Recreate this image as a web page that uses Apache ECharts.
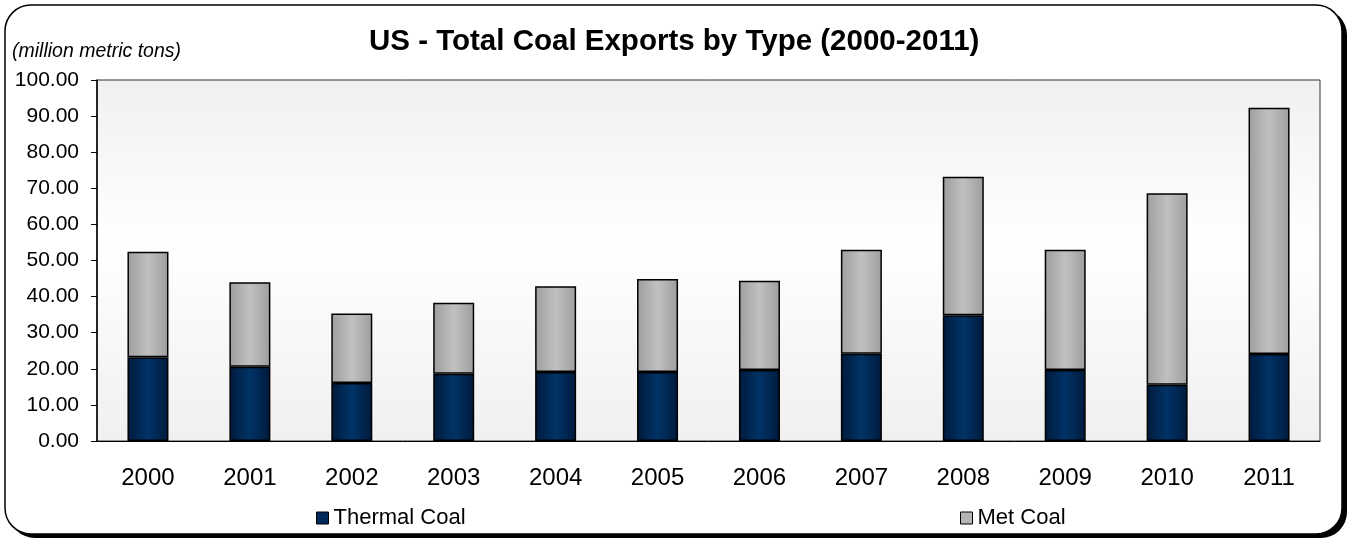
<!DOCTYPE html>
<html lang="en" style="height: 100%">
  <head>
    <meta charset="utf-8" />
  </head>
  <body style="height: 100%; margin: 0; background: #fff">
    <div id="container" style="width: 1352px; height: 540px"></div>

    <script
      type="text/javascript"
      src="https://cdn.jsdelivr.net/npm/echarts@6/dist/echarts.min.js"
    ></script>

    <script type="text/javascript">
      var years = ["2000", "2001", "2002", "2003", "2004", "2005",
                   "2006", "2007", "2008", "2009", "2010", "2011"];
      var thermalCoal = [23.2, 20.6, 16.1, 18.6, 19.1, 19.1, 19.7, 24.2, 34.8, 19.7, 15.6, 24.1];
      var metCoal = [29.2, 23.4, 19.2, 19.7, 23.8, 25.8, 24.7, 28.8, 38.4, 33.3, 53.0, 68.2];

      var dom = document.getElementById("container");
      var myChart = echarts.init(dom, null, { renderer: "canvas" });

      var font = "Liberation Sans, Arial, sans-serif";

      function barGrad(edge, mid) {
        return new echarts.graphic.LinearGradient(0, 0, 1, 0, [
          { offset: 0, color: edge },
          { offset: 0.5, color: mid },
          { offset: 1, color: edge },
        ]);
      }

      var option = {
        animation: false,
        textStyle: { fontFamily: font, color: "#000" },
        graphic: [
          {
            type: "rect",
            z: -10,
            shape: { x: 9, y: 9, width: 1338, height: 529, r: 26 },
            style: { fill: "#000" },
          },
          {
            type: "rect",
            z: -9,
            shape: { x: 5, y: 5, width: 1337, height: 529, r: 26 },
            style: { fill: "#fff", stroke: "#000", lineWidth: 1.5 },
          },
          {
            type: "text",
            left: 12,
            top: 42,
            style: {
              text: "(million metric tons)",
              font: "italic 19.5px " + font,
              fill: "#000",
            },
          },
        ],
        title: {
          text: "US - Total Coal Exports by Type (2000-2011)",
          left: 364,
          top: 22,
          textStyle: { fontSize: 29.5, fontWeight: "bold", fontFamily: font, color: "#000" },
        },
        legend: [
          {
            left: 311,
            top: 502,
            icon: "rect",
            itemWidth: 12,
            itemHeight: 12,
            itemGap: 4,
            textStyle: { fontSize: 22, fontFamily: font, color: "#000" },
            data: [
              {
                name: "Thermal Coal",
                itemStyle: { color: "#00285a", borderColor: "#000", borderWidth: 1 },
              },
            ],
          },
          {
            left: 955,
            top: 502,
            icon: "rect",
            itemWidth: 12,
            itemHeight: 12,
            textStyle: { fontSize: 22, fontFamily: font, color: "#000" },
            data: [
              {
                name: "Met Coal",
                itemStyle: { color: "#b4b4b4", borderColor: "#000", borderWidth: 1 },
              },
            ],
          },
        ],
        grid: {
          left: 97,
          right: 32,
          top: 80,
          bottom: 99,
          show: true,
          borderColor: "#333",
          borderWidth: 1,
          backgroundColor: new echarts.graphic.LinearGradient(0, 0, 0, 1, [
            { offset: 0, color: "#f0f0f0" },
            { offset: 0.45, color: "#ffffff" },
            { offset: 1, color: "#f0f0f0" },
          ]),
        },
        xAxis: {
          type: "category",
          data: years,
          axisLine: { lineStyle: { color: "#000", width: 1 } },
          axisTick: { show: false },
          axisLabel: { fontSize: 24, color: "#000", margin: 25, fontFamily: font },
        },
        yAxis: {
          type: "value",
          min: 0,
          max: 100,
          interval: 10,
          axisLine: { show: true, lineStyle: { color: "#000", width: 1.5 } },
          axisTick: { show: true, length: 6, lineStyle: { color: "#000" } },
          splitLine: { show: false },
          axisLabel: {
            fontSize: 21,
            color: "#000",
            margin: 18,
            fontFamily: font,
            formatter: function (v) {
              return v.toFixed(2);
            },
          },
        },
        series: [
          {
            name: "Thermal Coal",
            type: "bar",
            stack: "total",
            barWidth: 41,
            data: thermalCoal,
            itemStyle: {
              color: barGrad("#001a3c", "#003366"),
              borderColor: "#000",
              borderWidth: 1.5,
            },
          },
          {
            name: "Met Coal",
            type: "bar",
            stack: "total",
            barWidth: 41,
            data: metCoal,
            itemStyle: {
              color: barGrad("#9e9e9e", "#c0c0c0"),
              borderColor: "#000",
              borderWidth: 1.5,
            },
          },
        ],
      };

      myChart.setOption(option);
      window.addEventListener("resize", myChart.resize);
    </script>
  </body>
</html>
